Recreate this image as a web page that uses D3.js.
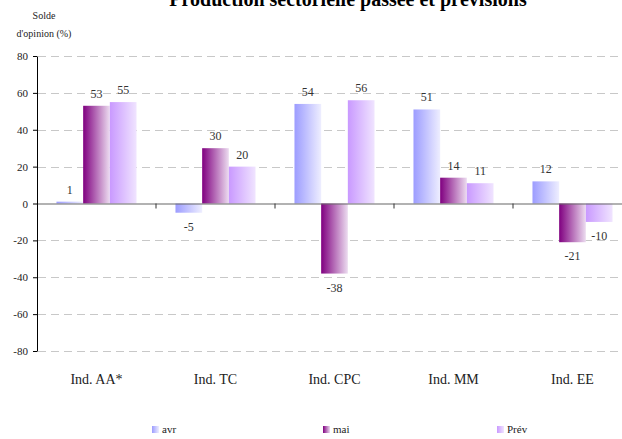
<!doctype html>
<html>
<head>
<meta charset="UTF-8">
<title>Production sectorielle passée et prévisions</title>
<script src="https://d3js.org/d3.v7.min.js"></script>
<style>
	body { margin: 0; background: #fff; }
	svg text { font-family: "Liberation Serif", "DejaVu Serif", serif; }
</style>
</head>
<body>
<script>
	// Data
	var categories = ["Ind. AA*", "Ind. TC", "Ind. CPC", "Ind. MM", "Ind. EE"];
	var seriesNames = ["avr", "mai", "Prév"];
	var avr = [1, -5, 54, 51, 12];
	var mai = [53, 30, -38, 14, -21];
	var prev = [55, 20, 56, 11, -10];
	var yTicks = [80, 60, 40, 20, 0, -20, -40, -60, -80];

	var values = [avr, mai, prev];
	var serif = "Liberation Serif, DejaVu Serif, serif";

	// gradient stops for each series (left -> right)
	var gradColors = [
		["#9c9cff", "#eeeeff"],
		["#800080", "#ecdcf0"],
		["#c999ff", "#f0e4ff"]
	];

	var width = 622, height = 439;
	var margin = {top: 56, right: -10, bottom: 87, left: 37};

	var svg = d3.select("body").append("svg")
		.attr("width", width)
		.attr("height", height);

	var defs = svg.append("defs");
	seriesNames.forEach(function(s, i) {
		var g = defs.append("linearGradient")
			.attr("id", "grad" + i)
			.attr("x1", "0").attr("y1", "0")
			.attr("x2", "1").attr("y2", "0");
		g.append("stop").attr("offset", "0%").attr("stop-color", gradColors[i][0]);
		g.append("stop").attr("offset", "100%").attr("stop-color", gradColors[i][1]);
	});

	var x0 = d3.scaleBand()
		.domain(categories)
		.range([margin.left, width - margin.right])
		.padding(0);

	var x1 = d3.scaleBand()
		.domain(seriesNames)
		.range([0, x0.bandwidth()])
		.paddingInner(0)
		.paddingOuter(0.73);

	var y = d3.scaleLinear()
		.domain([-80, 80])
		.range([height - margin.bottom - 1, margin.top]);

	// Title (cut off at the top like the original)
	svg.append("text")
		.attr("x", 348)
		.attr("y", 6)
		.attr("text-anchor", "middle")
		.attr("font-family", serif)
		.attr("font-size", 20)
		.attr("font-weight", "bold")
		.text("Production sectorielle passée et prévisions");

	// y axis title
	svg.append("text")
		.attr("x", 44).attr("y", 19)
		.attr("text-anchor", "middle")
		.attr("font-family", serif)
		.attr("font-size", 10)
		.attr("fill", "#222")
		.text("Solde");
	svg.append("text")
		.attr("x", 44).attr("y", 37)
		.attr("text-anchor", "middle")
		.attr("font-family", serif)
		.attr("font-size", 10)
		.attr("fill", "#222")
		.text("d'opinion (%)");

	// Gridlines
	svg.append("g")
		.selectAll("line")
		.data(yTicks.filter(function(d) { return d != 0; }))
		.join("line")
		.attr("x1", margin.left + 1)
		.attr("x2", width)
		.attr("y1", function(d) { return Math.round(y(d)) + 0.5; })
		.attr("y2", function(d) { return Math.round(y(d)) + 0.5; })
		.attr("stroke", "#c8c8c8")
		.attr("stroke-dasharray", "8,5");

	// Bars
	var groups = svg.append("g")
		.selectAll("g")
		.data(categories)
		.join("g")
		.attr("transform", function(d) { return "translate(" + x0(d) + ",0)"; });

	groups.selectAll("rect")
		.data(function(d, ci) {
			return seriesNames.map(function(s, si) { return {s: s, si: si, v: values[si][ci]}; });
		})
		.join("rect")
		.attr("x", function(d) { return x1(d.s); })
		.attr("width", x1.bandwidth())
		.attr("y", function(d) { return y(Math.max(0, d.v)); })
		.attr("height", function(d) { return Math.abs(y(d.v) - y(0)); })
		.attr("fill", function(d) { return "url(#grad" + d.si + ")"; });

	// Value labels
	groups.selectAll("text")
		.data(function(d, ci) {
			return seriesNames.map(function(s, si) { return {s: s, si: si, v: values[si][ci]}; });
		})
		.join("text")
		.attr("x", function(d) { return x1(d.s) + x1.bandwidth() / 2; })
		.attr("y", function(d) { return d.v >= 0 ? y(d.v) - 8 : y(d.v) + 18; })
		.attr("text-anchor", "middle")
		.attr("font-family", serif)
		.attr("font-size", 12)
		.attr("fill", "#333")
		.text(function(d) { return String(d.v); });

	// Zero line with category ticks
	var xAxis = svg.append("g")
		.attr("transform", "translate(0," + y(0) + ")")
		.call(d3.axisBottom(x0).tickSize(0).tickFormat(""));
	xAxis.select(".domain").attr("stroke", "#666").attr("stroke-width", 1.2);
	xAxis.selectAll(".tick").remove();
	xAxis.selectAll("line.sep")
		.data(categories.slice(1))
		.join("line")
		.attr("class", "sep")
		.attr("x1", function(d) { return x0(d); })
		.attr("x2", function(d) { return x0(d); })
		.attr("y1", 0).attr("y2", 5)
		.attr("stroke", "#333");

	// Category labels
	svg.append("g")
		.selectAll("text")
		.data(categories)
		.join("text")
		.attr("x", function(d) { return x0(d) + x0.bandwidth() / 2; })
		.attr("y", 384)
		.attr("text-anchor", "middle")
		.attr("font-family", serif)
		.attr("font-size", 14)
		.attr("fill", "#222")
		.text(function(d) { return d; });

	// y axis
	var yAxis = svg.append("g")
		.attr("transform", "translate(" + margin.left + ",0)")
		.call(d3.axisLeft(y).tickValues(yTicks).tickSize(4).tickSizeOuter(0).tickPadding(5)
			.tickFormat(function(d) { return String(d); }));
	yAxis.attr("font-family", serif).attr("font-size", 11);
	yAxis.select(".domain").attr("stroke", "#000");
	yAxis.selectAll(".tick line").attr("stroke", "#000");
	yAxis.selectAll(".tick text").attr("fill", "#222");

	// Legend
	var legendX = [152, 323, 497];
	var legend = svg.append("g")
		.selectAll("g")
		.data(seriesNames)
		.join("g")
		.attr("transform", function(d, i) { return "translate(" + legendX[i] + ",426)"; });
	legend.append("rect")
		.attr("width", 7).attr("height", 7)
		.attr("fill", function(d, i) { return "url(#grad" + i + ")"; });
	legend.append("text")
		.attr("x", 10).attr("y", 7)
		.attr("font-family", serif)
		.attr("font-size", 11)
		.attr("fill", "#222")
		.text(function(d) { return d; });
</script>
</body>
</html>
